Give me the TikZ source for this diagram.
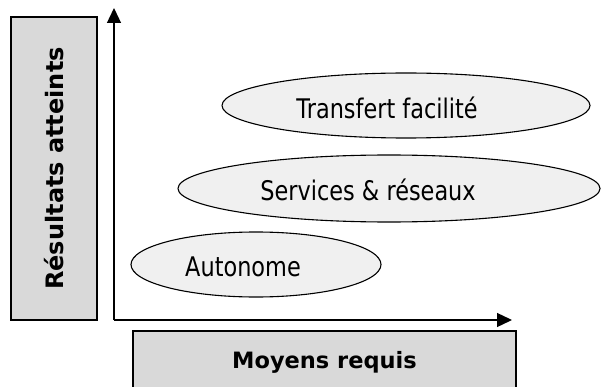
\documentclass[tikz,border=0pt]{standalone}
\usepackage{fontspec}
\setmainfont{DejaVu Sans}
\newfontfamily\ovalfont{DejaVu Sans}[FakeStretch=0.83]
\usetikzlibrary{arrows.meta,shapes.geometric}
\definecolor{boxgray}{HTML}{D9D9D9}
\definecolor{ovalgray}{HTML}{F0F0F0}
\begin{document}
\begin{tikzpicture}[x=1pt,y=-1pt,
  axisbox/.style={draw=black,line width=1.2pt,fill=boxgray,inner sep=0pt,
    font=\fontsize{22.5}{26}\selectfont\bfseries},
  level/.style={ellipse,draw=black,line width=1.1pt,fill=ovalgray,inner sep=0pt},
  leveltext/.style={font=\ovalfont\fontsize{27}{31}\selectfont},
  axis/.style={line width=1.3pt,-{Triangle[length=15pt,width=14pt]}}]
\useasboundingbox (0,0) rectangle (601,387);

% axis labels
\node[axisbox,minimum width=86pt,minimum height=303pt,
  font=\fontsize{24}{28}\selectfont\bfseries] (res) at (54,168.5)
  {\rotatebox{90}{Résultats atteints}};
\node[axisbox,minimum width=383pt,minimum height=62pt] (moy) at (324.5,362)
  {Moyens requis};

% axes
\coordinate (O) at (114,320);
\coordinate (ytip) at (114,8);
\coordinate (xtip) at (512,320);
\draw[axis] (O) -- (ytip);
\draw[axis] (O) -- (xtip);

% levels
\node[level,minimum width=368pt,minimum height=65pt,
  label={[leveltext,xshift=-19pt,yshift=-2pt]center:Transfert facilité}] (tra) at (406,105.5) {};
\node[level,minimum width=422pt,minimum height=67pt,
  label={[leveltext,xshift=-21pt,yshift=-1pt]center:Services \& réseaux}] (ser) at (389,188.5) {};
\node[level,minimum width=250pt,minimum height=65pt,
  label={[leveltext,xshift=-13pt,yshift=-2pt]center:Autonome}] (aut) at (256,264.5) {};
\end{tikzpicture}
\end{document}
